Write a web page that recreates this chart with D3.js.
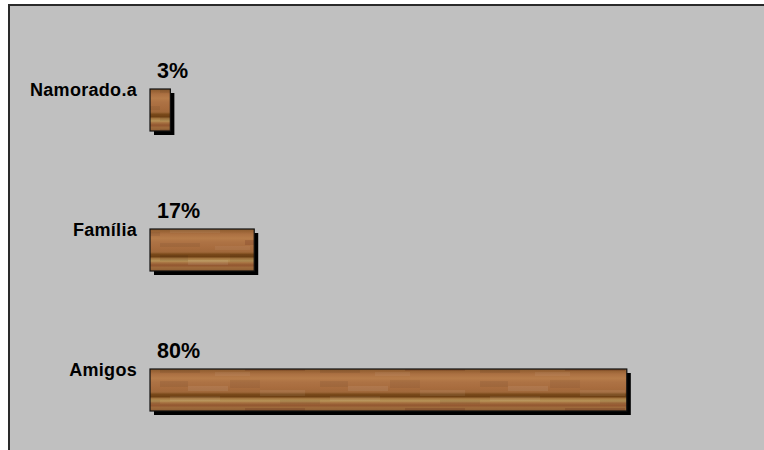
<!DOCTYPE html>
<html>
<head>
<meta charset="utf-8">
<script src="https://cdn.jsdelivr.net/npm/d3@7"></script>
<style>
  html, body { margin: 0; padding: 0; background: #ffffff; }
  svg { display: block; }
</style>
</head>
<body>
<svg id="chart" width="764" height="450"></svg>
<script>
// Data
const categories = ["Namorado.a", "Família", "Amigos"];
const values = [3.4, 17.4, 79.6];           // percentages
const valueLabels = ["3%", "17%", "80%"];

const svg = d3.select("#chart");
const W = 764, H = 450;

// background plot panel
svg.append("rect").attr("x", 0).attr("y", 0).attr("width", W).attr("height", H).attr("fill", "#ffffff");
svg.append("rect").attr("x", 9).attr("y", 5).attr("width", W + 10).attr("height", H + 10)
  .attr("fill", "#c0c0c0").attr("stroke", "#2a2a2a").attr("stroke-width", 2);

// wood gradient
const defs = svg.append("defs");
const grad = defs.append("linearGradient").attr("id", "wood")
  .attr("x1", 0).attr("y1", 0).attr("x2", 0).attr("y2", 1);
[
  [0.00, "#8a5a2e"], [0.06, "#9a6436"], [0.12, "#ab7042"], [0.22, "#b67c4a"],
  [0.32, "#ad7244"], [0.45, "#a86c3e"], [0.55, "#a0683a"], [0.60, "#7a4a1a"],
  [0.66, "#6e4014"], [0.70, "#a2743e"], [0.76, "#b89458"], [0.80, "#a87442"],
  [0.86, "#925630"], [0.92, "#9e6a3c"], [1.00, "#8e5e34"]
].forEach(([o, c]) => grad.append("stop").attr("offset", o).attr("stop-color", c));

// grain overlay pattern (subtle blocks)
const pat = defs.append("pattern").attr("id", "grain")
  .attr("patternUnits", "userSpaceOnUse").attr("width", 160).attr("height", 42);
[
  [0, 3, 28, 6, "#000", 0.06], [28, 8, 40, 5, "#fff", 0.07], [70, 2, 30, 8, "#000", 0.05],
  [100, 12, 45, 6, "#fff", 0.06], [10, 18, 50, 5, "#fff", 0.05], [85, 30, 60, 5, "#5a1a10", 0.18],
  [0, 33, 40, 4, "#000", 0.06], [120, 22, 40, 4, "#000", 0.06], [55, 36, 35, 4, "#fff", 0.05]
].forEach(([px, py, pw, ph, c, o]) => pat.append("rect")
  .attr("x", px).attr("y", py).attr("width", pw).attr("height", ph)
  .attr("fill", c).attr("fill-opacity", o));

const x = d3.scaleLinear().domain([0, 100]).range([150, 749]);
const y = d3.scaleBand().domain(categories).range([40, 460]).paddingInner(0.7).paddingOuter(0.35);

const g = svg.append("g");
const data = categories.map((c, i) => ({ c, v: values[i], lab: valueLabels[i] }));

// shadows
g.selectAll("rect.shadow").data(data).join("rect").attr("class", "shadow")
  .attr("x", d => x(0) + 4).attr("y", d => y(d.c) + 4)
  .attr("width", d => x(d.v) - x(0)).attr("height", y.bandwidth())
  .attr("fill", "#000");

// bars
g.selectAll("rect.bar").data(data).join("rect").attr("class", "bar")
  .attr("x", x(0)).attr("y", d => y(d.c))
  .attr("width", d => x(d.v) - x(0)).attr("height", y.bandwidth())
  .attr("fill", "url(#wood)");
g.selectAll("rect.grain").data(data).join("rect").attr("class", "grain")
  .attr("x", x(0)).attr("y", d => y(d.c))
  .attr("width", d => x(d.v) - x(0)).attr("height", y.bandwidth())
  .attr("fill", "url(#grain)")
  .attr("stroke", "#111").attr("stroke-width", 1.2);

// category labels
g.selectAll("text.cat").data(data).join("text").attr("class", "cat")
  .attr("x", 137).attr("y", d => y(d.c) + 7)
  .attr("text-anchor", "end")
  .attr("font-family", "Liberation Sans, Arial, sans-serif")
  .attr("font-weight", "bold").attr("font-size", 18)
  .attr("letter-spacing", 0.3)
  .attr("fill", "#000")
  .text(d => d.c);

// value labels
g.selectAll("text.val").data(data).join("text").attr("class", "val")
  .attr("x", x(0) + 7).attr("y", d => y(d.c) - 11)
  .attr("font-family", "Liberation Sans, Arial, sans-serif")
  .attr("font-weight", "bold").attr("font-size", 21.5)
  .attr("fill", "#000")
  .text(d => d.lab);
</script>
</body>
</html>
